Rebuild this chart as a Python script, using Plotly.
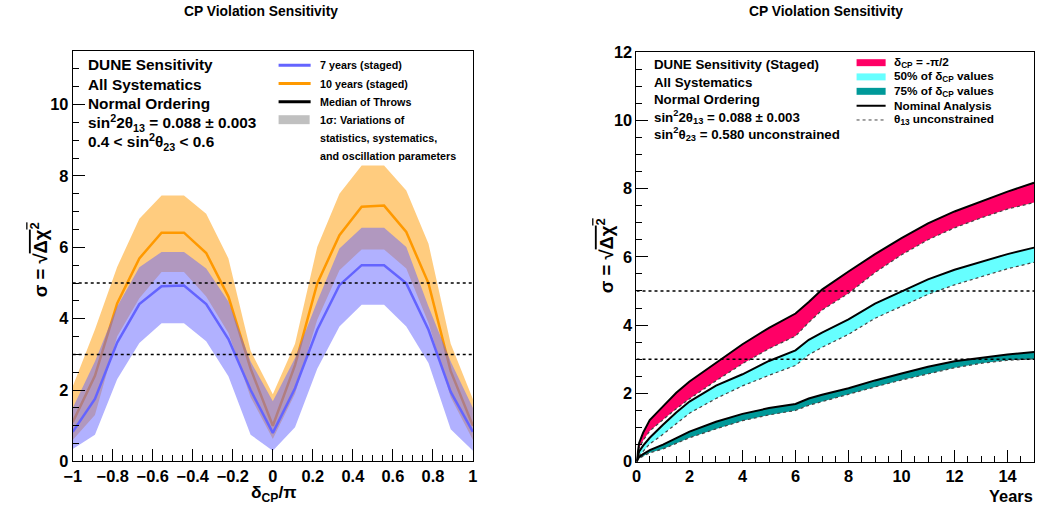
import plotly.graph_objects as go

# ---------------- Left panel data: sigma vs delta_CP/pi ----------------
delta_cp = [-1.0, -0.889, -0.778, -0.667, -0.556, -0.444, -0.333, -0.222, -0.111, 0.0,
            0.111, 0.222, 0.333, 0.444, 0.556, 0.667, 0.778, 0.889, 1.0]
sig7_med = [0.83, 1.75, 3.33, 4.41, 4.91, 4.93, 4.41, 3.43, 2.00, 0.80,
            2.05, 3.69, 4.94, 5.50, 5.50, 4.99, 3.69, 1.95, 0.83]
sig7_hi = [1.50, 2.80, 4.34, 5.44, 5.87, 5.87, 5.41, 4.48, 2.80, 1.69,
           2.90, 4.48, 5.97, 6.55, 6.55, 6.01, 4.34, 2.80, 1.50]
sig7_lo = [0.35, 0.75, 2.30, 3.32, 3.87, 3.87, 3.37, 2.39, 0.75, 0.30,
           0.96, 2.60, 3.78, 4.39, 4.39, 3.78, 2.76, 0.90, 0.30]
sig10_med = [1.10, 2.40, 4.43, 5.69, 6.41, 6.41, 5.84, 4.62, 2.60, 1.00,
             2.70, 4.99, 6.34, 7.14, 7.17, 6.43, 4.99, 2.53, 1.00]
sig10_hi = [2.10, 3.70, 5.45, 6.80, 7.45, 7.45, 6.94, 5.69, 3.10, 1.88,
            3.30, 6.01, 7.50, 8.29, 8.29, 7.59, 6.10, 3.30, 1.74]
sig10_lo = [0.60, 1.30, 3.50, 4.57, 5.31, 5.31, 4.62, 3.60, 1.80, 0.63,
            1.90, 3.97, 5.36, 5.94, 5.94, 5.41, 3.88, 1.80, 0.60]

# ---------------- Right panel data: sigma vs exposure years ----------------
years = [0, 0.1, 0.25, 0.5, 1, 1.5, 2, 3, 4, 5, 6, 6.5, 7, 8, 9, 10, 11, 12, 13, 14, 15]
pi2_nom = [0, 0.55, 0.85, 1.22, 1.62, 2.02, 2.35, 2.90, 3.44, 3.92, 4.34, 4.68, 5.04,
           5.57, 6.08, 6.55, 6.98, 7.33, 7.63, 7.91, 8.17]
pi2_unc = [0, 0.40, 0.62, 0.90, 1.23, 1.55, 1.84, 2.37, 2.87, 3.31, 3.68, 4.08, 4.44,
           4.93, 5.54, 6.06, 6.50, 6.85, 7.14, 7.40, 7.59]
p50_nom = [0, 0.30, 0.47, 0.70, 1.08, 1.44, 1.76, 2.23, 2.56, 2.95, 3.26, 3.57, 3.78,
           4.17, 4.63, 4.98, 5.34, 5.62, 5.86, 6.08, 6.27]
p50_unc = [0, 0.18, 0.30, 0.52, 0.80, 1.12, 1.42, 1.85, 2.22, 2.53, 2.82, 3.13, 3.35,
           3.73, 4.20, 4.55, 4.90, 5.18, 5.42, 5.65, 5.84]
p75_nom = [0, 0.14, 0.22, 0.34, 0.50, 0.70, 0.88, 1.17, 1.40, 1.57, 1.69, 1.85, 1.96,
           2.15, 2.38, 2.58, 2.78, 2.94, 3.05, 3.14, 3.21]
p75_unc = [0, 0.10, 0.16, 0.26, 0.37, 0.54, 0.70, 0.96, 1.20, 1.37, 1.50, 1.65, 1.76,
           1.96, 2.19, 2.39, 2.58, 2.75, 2.88, 2.97, 3.01]

sigma_levels = [3, 5]

FONT = "Liberation Sans"
fig = go.Figure()

# ---- left panel ----
fig.add_trace(go.Scatter(x=delta_cp, y=sig10_lo, mode="lines", line=dict(width=0),
                         hoverinfo="skip", showlegend=False, xaxis="x", yaxis="y"))
fig.add_trace(go.Scatter(x=delta_cp, y=sig10_hi, mode="lines", line=dict(width=0),
                         fill="tonexty", fillcolor="rgba(255,153,0,0.5)",
                         showlegend=False, xaxis="x", yaxis="y"))
fig.add_trace(go.Scatter(x=delta_cp, y=sig10_med, mode="lines",
                         line=dict(color="rgb(255,153,0)", width=2.5),
                         showlegend=False, xaxis="x", yaxis="y"))
fig.add_trace(go.Scatter(x=delta_cp, y=sig7_lo, mode="lines", line=dict(width=0),
                         hoverinfo="skip", showlegend=False, xaxis="x", yaxis="y"))
fig.add_trace(go.Scatter(x=delta_cp, y=sig7_hi, mode="lines", line=dict(width=0),
                         fill="tonexty", fillcolor="rgba(100,100,255,0.5)",
                         showlegend=False, xaxis="x", yaxis="y"))
fig.add_trace(go.Scatter(x=delta_cp, y=sig7_med, mode="lines",
                         line=dict(color="rgb(100,100,255)", width=2.5),
                         showlegend=False, xaxis="x", yaxis="y"))
for lv in sigma_levels:
    fig.add_trace(go.Scatter(x=[-1, 1], y=[lv, lv], mode="lines",
                             line=dict(color="black", width=1.5, dash="dot"),
                             showlegend=False, xaxis="x", yaxis="y"))

# ---- right panel ----
bands = [(pi2_unc, pi2_nom, "rgb(255,0,102)"),
         (p50_unc, p50_nom, "rgb(102,255,255)"),
         (p75_unc, p75_nom, "rgb(0,153,153)")]
for lo, hi, col in bands:
    fig.add_trace(go.Scatter(x=years, y=lo, mode="lines",
                             line=dict(color="#444", width=1.2, dash="dot"),
                             showlegend=False, xaxis="x2", yaxis="y2"))
    fig.add_trace(go.Scatter(x=years, y=hi, mode="lines",
                             line=dict(color="black", width=2),
                             fill="tonexty", fillcolor=col,
                             showlegend=False, xaxis="x2", yaxis="y2"))
for lv in sigma_levels:
    fig.add_trace(go.Scatter(x=[0, 15], y=[lv, lv], mode="lines",
                             line=dict(color="black", width=1.5, dash="dot"),
                             showlegend=False, xaxis="x2", yaxis="y2"))

W, H = 1040, 511
# The photographed page carries an 8px body margin and is scaled back to
# 1040x511; map reference pixels to figure fractions accordingly.
SX = (W + 16) / W
SY = (H + 16) / H
FS = 1.025  # font compensation for the slight down-scaling
def px(x):
    return min(x * SX - 8, W - 1) / W
def py(y):
    return 1 - (y * SY - 8) / H

tickfont = dict(family=FONT, size=16 * FS, color="black", weight="bold")
common = dict(showline=True, linecolor="black", linewidth=1, mirror=True,
              ticks="inside", tickcolor="black", ticklen=12, tickwidth=1,
              showgrid=False, zeroline=False, tickfont=tickfont)

fig.update_layout(
    width=W, height=H, margin=dict(l=0, r=0, t=0, b=0),
    paper_bgcolor="white", plot_bgcolor="white", showlegend=False,
    xaxis=dict(domain=[px(71.5), px(471)], range=[-1, 1],
               minor=dict(dtick=0.05, ticklen=6, ticks="inside", tickcolor="black"),
               tickvals=[-1, -0.8, -0.6, -0.4, -0.2, 0, 0.2, 0.4, 0.6, 0.8, 1],
               ticktext=["\u22121", "\u22120.8", "\u22120.6", "\u22120.4", "\u22120.2",
                         "0", "0.2", "0.4", "0.6", "0.8", "1"],
               anchor="y", **common),
    yaxis=dict(domain=[py(462.5), py(50)], range=[0, 11.5], dtick=2,
               minor=dict(dtick=0.5, ticklen=6, ticks="inside", tickcolor="black"),
               anchor="x", **common),
    xaxis2=dict(domain=[px(634.3), px(1034.3)], range=[0, 15], dtick=2,
                minor=dict(dtick=0.5, ticklen=6, ticks="inside", tickcolor="black"),
                anchor="y2", **common),
    yaxis2=dict(domain=[py(462.7), py(51)], range=[0, 12], dtick=2,
                minor=dict(dtick=0.5, ticklen=6, ticks="inside", tickcolor="black"),
                anchor="x2", **common),
)

ann = []
def text(x, y, s, size, xanchor="left", yanchor="middle", angle=0):
    ann.append(dict(x=px(x), y=py(y), xref="paper", yref="paper", text=s,
                    showarrow=False, xanchor=xanchor, yanchor=yanchor, textangle=angle,
                    borderpad=0,
                    font=dict(family=FONT, size=size * FS, color="black", weight="bold")))

# titles
text(259, 10, "CP Violation Sensitivity", 13.5, xanchor="center")
text(823, 10, "CP Violation Sensitivity", 13.5, xanchor="center")

# axis titles
ytitle = "\u03c3 = \u221a<span style='text-decoration:overline'>\u0394\u03c7<sup>2</sup></span>"
text(38, 260, ytitle, 18, xanchor="center", angle=-90)
text(603, 256, ytitle, 18, xanchor="center", angle=-90)
text(272, 495, "\u03b4<sub>CP</sub>/\u03c0", 17, xanchor="center")
text(1035, 497, "Years", 16, xanchor="right")

# left info block
left_info = ["DUNE Sensitivity", "All Systematics", "Normal Ordering",
             "sin<sup>2</sup>2\u03b8<sub>13</sub> = 0.088 \u00b1 0.003",
             "0.4 &lt; sin<sup>2</sup>\u03b8<sub>23</sub> &lt; 0.6"]
for i, s in enumerate(left_info):
    text(86, 64 + i * 19.3, s, 15)

# left legend
leg_y = [64.3, 82.7, 101, 119, 137.3, 155]
leg_txt = ["7 years (staged)", "10 years (staged)", "Median of Throws",
           "1\u03c3: Variations of", "statistics, systematics,", "and oscillation parameters"]
for yy, s in zip(leg_y, leg_txt):
    text(317, yy, s, 10.5)

shapes = []
for yy, col in zip(leg_y[:3], ["rgb(100,100,255)", "rgb(255,153,0)", "black"]):
    shapes.append(dict(type="line", xref="paper", yref="paper", x0=px(277), x1=px(309),
                       y0=py(yy), y1=py(yy), line=dict(color=col, width=3)))
shapes.append(dict(type="rect", xref="paper", yref="paper", x0=px(277), x1=px(308),
                   y0=py(123.5), y1=py(114.5), fillcolor="rgb(192,192,192)", line=dict(width=0)))

# right info block
right_info = ["DUNE Sensitivity (Staged)", "All Systematics", "Normal Ordering",
              "sin<sup>2</sup>2\u03b8<sub>13</sub> = 0.088 \u00b1 0.003",
              "sin<sup>2</sup>\u03b8<sub>23</sub> = 0.580 unconstrained"]
for i, s in enumerate(right_info):
    text(651, 64 + i * 17.3, s, 13)

# right legend
rleg_y = [61.7, 76, 90.5, 105, 119.3]
rleg_txt = ["\u03b4<sub>CP</sub> = -\u03c0/2", "50% of \u03b4<sub>CP</sub> values",
            "75% of \u03b4<sub>CP</sub> values", "Nominal Analysis", "\u03b8<sub>13</sub> unconstrained"]
for yy, s in zip(rleg_y, rleg_txt):
    text(890, yy, s, 11.5)
for yy, col in zip(rleg_y[:3], ["rgb(255,0,102)", "rgb(102,255,255)", "rgb(0,153,153)"]):
    shapes.append(dict(type="rect", xref="paper", yref="paper", x0=px(854), x1=px(883),
                       y0=py(yy + 3.5), y1=py(yy - 3.5), fillcolor=col, line=dict(width=0)))
shapes.append(dict(type="line", xref="paper", yref="paper", x0=px(854), x1=px(883),
                   y0=py(rleg_y[3]), y1=py(rleg_y[3]), line=dict(color="black", width=2)))
shapes.append(dict(type="line", xref="paper", yref="paper", x0=px(854), x1=px(883),
                   y0=py(rleg_y[4]), y1=py(rleg_y[4]), line=dict(color="#444", width=1, dash="dot")))

fig.update_layout(annotations=ann, shapes=shapes)
fig.write_html("out.html")
